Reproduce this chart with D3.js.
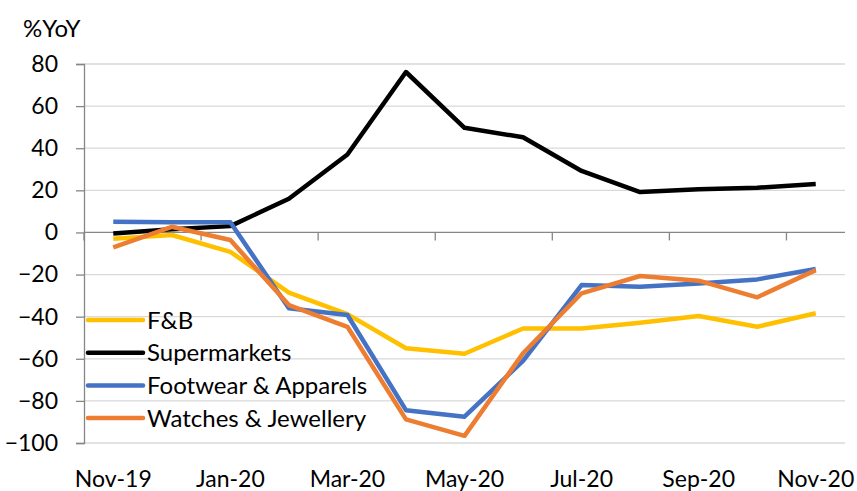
<!DOCTYPE html>
<html>
<head>
<meta charset="utf-8">
<script src="https://cdn.jsdelivr.net/npm/d3@7"></script>
<style>
  body { margin: 0; background: #fff; }
  svg text { font-family: Lato, "Open Sans", sans-serif; fill: #000; }
</style>
</head>
<body>
<div id="chart"></div>
<script>
// months on the x axis
const months = ["Nov-19", "Dec-19", "Jan-20", "Feb-20", "Mar-20", "Apr-20", "May-20",
  "Jun-20", "Jul-20", "Aug-20", "Sep-20", "Oct-20", "Nov-20"];

// %YoY values per series
const fnb = [-3, -1.2, -9.2, -28.6, -38.8, -55, -57.6, -45.6, -45.6, -42.9, -39.7, -44.8, -38.4];
const supermarkets = [-0.5, 1.5, 3, 16, 37, 76.2, 49.7, 45.2, 29.2, 19.2, 20.5, 21.2, 23];
const footwear = [5.1, 4.9, 4.8, -36, -39.2, -84.4, -87.5, -61, -25, -25.8, -24.2, -22.3, -17.4];
const watches = [-7.1, 2.7, -3.6, -34.5, -44.8, -88.8, -96.6, -57.4, -28.9, -20.7, -22.9, -30.8, -17.9];

const yTicks = [-100, -80, -60, -40, -20, 0, 20, 40, 60, 80];
const xLabels = ["Nov-19", "Jan-20", "Mar-20", "May-20", "Jul-20", "Sep-20", "Nov-20"];

const series = [
  { name: "F&B", values: fnb, color: "#FFC000" },
  { name: "Supermarkets", values: supermarkets, color: "#000000" },
  { name: "Footwear & Apparels", values: footwear, color: "#4472C4" },
  { name: "Watches & Jewellery", values: watches, color: "#ED7D31" }
];

const width = 857, height = 491;
const margin = { top: 64, right: 12, bottom: 48, left: 84 };

const svg = d3.select("#chart").append("svg")
  .attr("width", width)
  .attr("height", height);

const x = d3.scaleBand()
  .domain(months)
  .range([margin.left, width - margin.right])
  .padding(0);

const y = d3.scaleLinear()
  .domain([-100, 80])
  .range([height - margin.bottom, margin.top]);

// gridlines
svg.append("g")
  .selectAll("line")
  .data(yTicks.filter(d => d !== 0))
  .join("line")
  .attr("x1", margin.left)
  .attr("x2", width - margin.right)
  .attr("y1", d => y(d))
  .attr("y2", d => y(d))
  .attr("stroke", "#d9d9d9")
  .attr("stroke-width", 1.3);

// y axis
const yAxis = svg.append("g")
  .attr("transform", `translate(${margin.left},0)`)
  .call(d3.axisLeft(y).tickValues(yTicks).tickSize(8).tickPadding(18));
yAxis.select(".domain").attr("stroke", "#868686").attr("stroke-width", 1.3);
yAxis.selectAll(".tick line").attr("stroke", "#868686").attr("stroke-width", 1.3);
yAxis.selectAll("text").style("font-size", "23px");

// zero line with category tick marks
const zero = svg.append("g");
zero.append("line")
  .attr("x1", margin.left)
  .attr("x2", width - margin.right)
  .attr("y1", y(0))
  .attr("y2", y(0))
  .attr("stroke", "#868686")
  .attr("stroke-width", 1.3);
zero.selectAll(".mtick")
  .data(months.filter((d, i) => i % 2 === 0))
  .join("line")
  .attr("class", "mtick")
  .attr("x1", d => x(d))
  .attr("x2", d => x(d))
  .attr("y1", y(0))
  .attr("y2", y(0) + 8)
  .attr("stroke", "#868686")
  .attr("stroke-width", 1.3);

// x labels along the bottom
const xAxis = svg.append("g")
  .attr("transform", `translate(0,487)`)
  .call(d3.axisBottom(x).tickValues(xLabels).tickSize(0));
xAxis.select(".domain").remove();
xAxis.selectAll("text").style("font-size", "23px").attr("y", 0).attr("dy", 0);

// lines
const line = d3.line()
  .x((d, i) => x(months[i]) + x.bandwidth() / 2)
  .y(d => y(d));

svg.append("g")
  .selectAll("path")
  .data(series)
  .join("path")
  .attr("d", d => line(d.values))
  .attr("fill", "none")
  .attr("stroke", d => d.color)
  .attr("stroke-width", 4.5)
  .attr("stroke-linejoin", "round");

// legend
const legend = svg.append("g")
  .selectAll("g")
  .data(series)
  .join("g")
  .attr("transform", (d, i) => `translate(88,${320 + i * 32.7})`);
legend.append("line")
  .attr("x1", 0)
  .attr("x2", 55)
  .attr("stroke", d => d.color)
  .attr("stroke-width", 4.5)
  .attr("stroke-linecap", "round");
legend.append("text")
  .attr("x", 59)
  .attr("y", 8.5)
  .style("font-size", "24px")
  .text(d => d.name);

// unit label
svg.append("text")
  .attr("x", 23)
  .attr("y", 37)
  .style("font-size", "24px")
  .text("%YoY");
</script>
</body>
</html>
